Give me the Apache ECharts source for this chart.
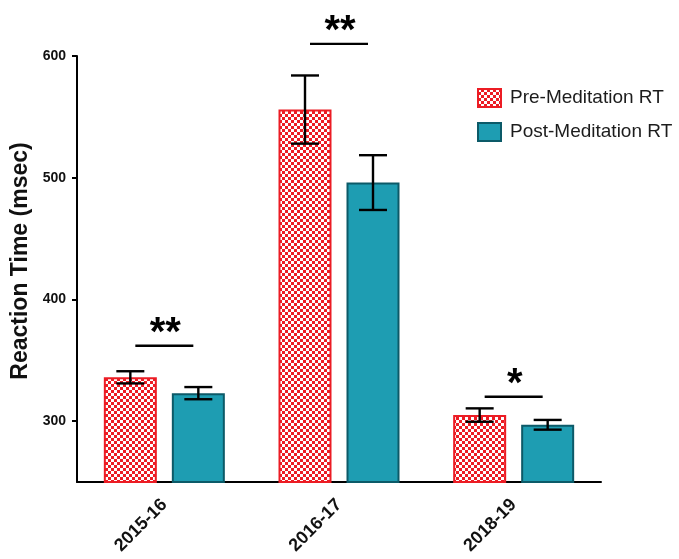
<!DOCTYPE html>
<html><head><meta charset="utf-8">
<script src="https://cdn.jsdelivr.net/npm/echarts@6/dist/echarts.min.js"></script>
<style>html,body{margin:0;padding:0;background:#fff}#c{width:679px;height:559px}</style>
</head><body><div id="c"></div>
<script>
const categories = ['2015-16', '2016-17', '2018-19'];
const preMean = [336, 556, 305];
const preErr = [5, 28, 5.5];
const postMean = [323, 496, 297];
const postErr = [5, 22.5, 4];
const sigLevel = [362, 610, 320];
const sigLabel = ['**', '**', '*'];
const yTicks = [300, 400, 500, 600];

const FONT = '"Liberation Sans", Arial, sans-serif';
const RED = '#ec1c24';
const TEAL = '#1e9db2';
const TEAL_BORDER = '#0c5a68';

function makePattern() {
  const c = document.createElement('canvas');
  c.width = 6; c.height = 6;
  const g = c.getContext('2d');
  g.fillStyle = RED; g.fillRect(0, 0, 6, 6);
  g.fillStyle = '#ffffff';
  g.fillRect(0, 0, 3, 3);
  g.fillRect(3, 3, 3, 3);
  return c;
}
const pattern = { image: makePattern(), repeat: 'repeat' };

const BAR_W = 53;
const GAP = 15;
const OFF = (BAR_W + GAP) / 2;

const errData = [];
for (let i = 0; i < categories.length; i++) {
  errData.push([i, preMean[i], preErr[i], -1]);
  errData.push([i, postMean[i], postErr[i], 1]);
}
const sigData = sigLevel.map((v, i) => [i, v]);

const chart = echarts.init(document.getElementById('c'));
chart.setOption({
  animation: false,
  grid: { left: 77, right: 78, top: 56, bottom: 77, outerBoundsMode: 'none', containLabel: false },
  legend: {
    orient: 'vertical', left: 472, top: 83, itemWidth: 23, itemHeight: 18, itemGap: 14, icon: 'rect',
    textStyle: { fontFamily: FONT, fontSize: 19, lineHeight: 18, color: '#1c1c1c', padding: [0, 0, 0, 4] },
    data: ['Pre-Meditation RT', 'Post-Meditation RT']
  },
  xAxis: {
    type: 'category', data: categories,
    axisLine: { lineStyle: { color: '#000', width: 2 } },
    axisTick: { alignWithLabel: true, length: 6, lineStyle: { color: '#000', width: 2 } },
    axisLabel: { rotate: 45, fontFamily: FONT, fontWeight: 'bold', fontSize: 18, color: '#111', margin: 20 }
  },
  yAxis: {
    type: 'value', min: 250, max: 600,
    name: 'Reaction Time (msec)', nameLocation: 'middle', nameGap: 43,
    nameTextStyle: { fontFamily: FONT, fontWeight: 'bold', fontSize: 23, color: '#111', padding: [0, 0, 0, 16] },
    splitLine: { show: false },
    axisLine: { show: true, lineStyle: { color: '#000', width: 2 } },
    axisTick: { show: true, length: 5, customValues: yTicks, lineStyle: { color: '#000', width: 2 } },
    axisLabel: { customValues: yTicks, fontFamily: FONT, fontWeight: 'bold', fontSize: 14, color: '#111', margin: 11 }
  },
  series: [
    {
      name: 'Pre-Meditation RT', type: 'bar', data: preMean, barWidth: BAR_W, barGap: (GAP / BAR_W * 100) + '%',
      itemStyle: { color: pattern, borderColor: RED, borderWidth: 2 }
    },
    {
      name: 'Post-Meditation RT', type: 'bar', data: postMean, barWidth: BAR_W,
      itemStyle: { color: TEAL, borderColor: TEAL_BORDER, borderWidth: 2 }
    },
    {
      type: 'custom', data: errData, z: 10, silent: true,
      renderItem: function (params, api) {
        const i = api.value(0), m = api.value(1), e = api.value(2), s = api.value(3);
        const c = api.coord([i, m]);
        const x = c[0] + s * OFF;
        const yt = api.coord([i, m + e])[1];
        const yb = api.coord([i, m - e])[1];
        const hw = 14;
        const st = { stroke: '#000', lineWidth: 2.4 };
        return { type: 'group', children: [
          { type: 'line', shape: { x1: x, y1: yt, x2: x, y2: yb }, style: st },
          { type: 'line', shape: { x1: x - hw, y1: yt, x2: x + hw, y2: yt }, style: st },
          { type: 'line', shape: { x1: x - hw, y1: yb, x2: x + hw, y2: yb }, style: st }
        ]};
      }
    },
    {
      type: 'custom', data: sigData, z: 10, silent: true, clip: false,
      renderItem: function (params, api) {
        const i = api.value(0), v = api.value(1);
        const c = api.coord([i, v]);
        const hw = 29;
        return { type: 'group', children: [
          { type: 'line', shape: { x1: c[0] - hw, y1: c[1], x2: c[0] + hw, y2: c[1] }, style: { stroke: '#000', lineWidth: 2.4 } },
          { type: 'text', x: c[0] + 1, y: c[1] - 12, style: { text: sigLabel[params.dataIndex], fontFamily: FONT, fontWeight: 'bold', fontSize: 40, fill: '#000', align: 'center', verticalAlign: 'middle' } }
        ]};
      }
    }
  ]
});
</script>
</body></html>
